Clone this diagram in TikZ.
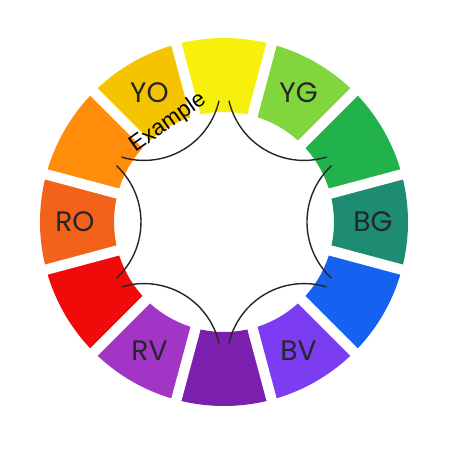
\documentclass[tikz,border=0pt]{standalone}
\usepackage{fontspec}
\setmainfont{Poppins}
\newfontfamily\examplefont{Liberation Sans}
\usetikzlibrary{positioning}
\definecolor{cyellow}{HTML}{F7EF0C}
\definecolor{cyg}{HTML}{80D63C}
\definecolor{cgreen}{HTML}{22B24C}
\definecolor{cbg}{HTML}{1E8C72}
\definecolor{cblue}{HTML}{1662F0}
\definecolor{cbv}{HTML}{7B3CF2}
\definecolor{cviolet}{HTML}{7A1FAE}
\definecolor{crv}{HTML}{A335C6}
\definecolor{cred}{HTML}{F20A0A}
\definecolor{cro}{HTML}{F2621A}
\definecolor{corange}{HTML}{FF8C0A}
\definecolor{cyo}{HTML}{F5C400}
\newcommand{\huesector}[2]{ % #1: middle angle, #2: colour
  \fill[#2] (#1-15:110) arc[start angle=#1-15, end angle=#1+15, radius=110]
    -- (#1+15:184) arc[start angle=#1+15, end angle=#1-15, radius=184] -- cycle; % ring piece
}

\begin{document}
\begin{tikzpicture}[x=0.025cm, y=0.025cm,
  huelabel/.style={font=\fontsize{20}{20}\selectfont, text=black!85, inner sep=0pt},
  gapline/.style={white, line width=0.26cm},
  splitarc/.style={black!85, line width=1pt}]

\useasboundingbox[fill=white] (-224,-228) rectangle (226,222);

% Colour ring, starting at the top and going clockwise
\foreach \a/\c in {90/cyellow, 60/cyg, 30/cgreen, 0/cbg, -30/cblue, -60/cbv,
                   -90/cviolet, -120/crv, -150/cred, 180/cro, 150/corange, 120/cyo}
{
    \huesector{\a}{\c}
}

% White gaps between the pieces
\foreach \a in {15,45,...,345}
{
    \draw[gapline] (\a:100) -- (\a:195);
}

% Labels
\node[huelabel] (yo) at (120:149) {YO};
\node[huelabel] (yg) at (60:149) {YG};
\node[huelabel] (bg) at (0:149) {BG};
\node[huelabel] (bv) at (-60:149) {BV};
\node[huelabel] (rv) at (-120:149) {RV};
\node[huelabel] (ro) at (180:149) {RO};

% Arcs round the middle
\foreach \t in {120,60,0,-60,-120,180}
{
    \draw[splitarc, shift={(\t:160)}] (\t+133:77) arc[start angle=\t+133, end angle=\t+227, radius=77];
}

\node[rotate=35, inner sep=0pt, font=\examplefont\fontsize{16}{16}\selectfont] (example) at (-56,99) {Example};

\end{tikzpicture}
\end{document}
